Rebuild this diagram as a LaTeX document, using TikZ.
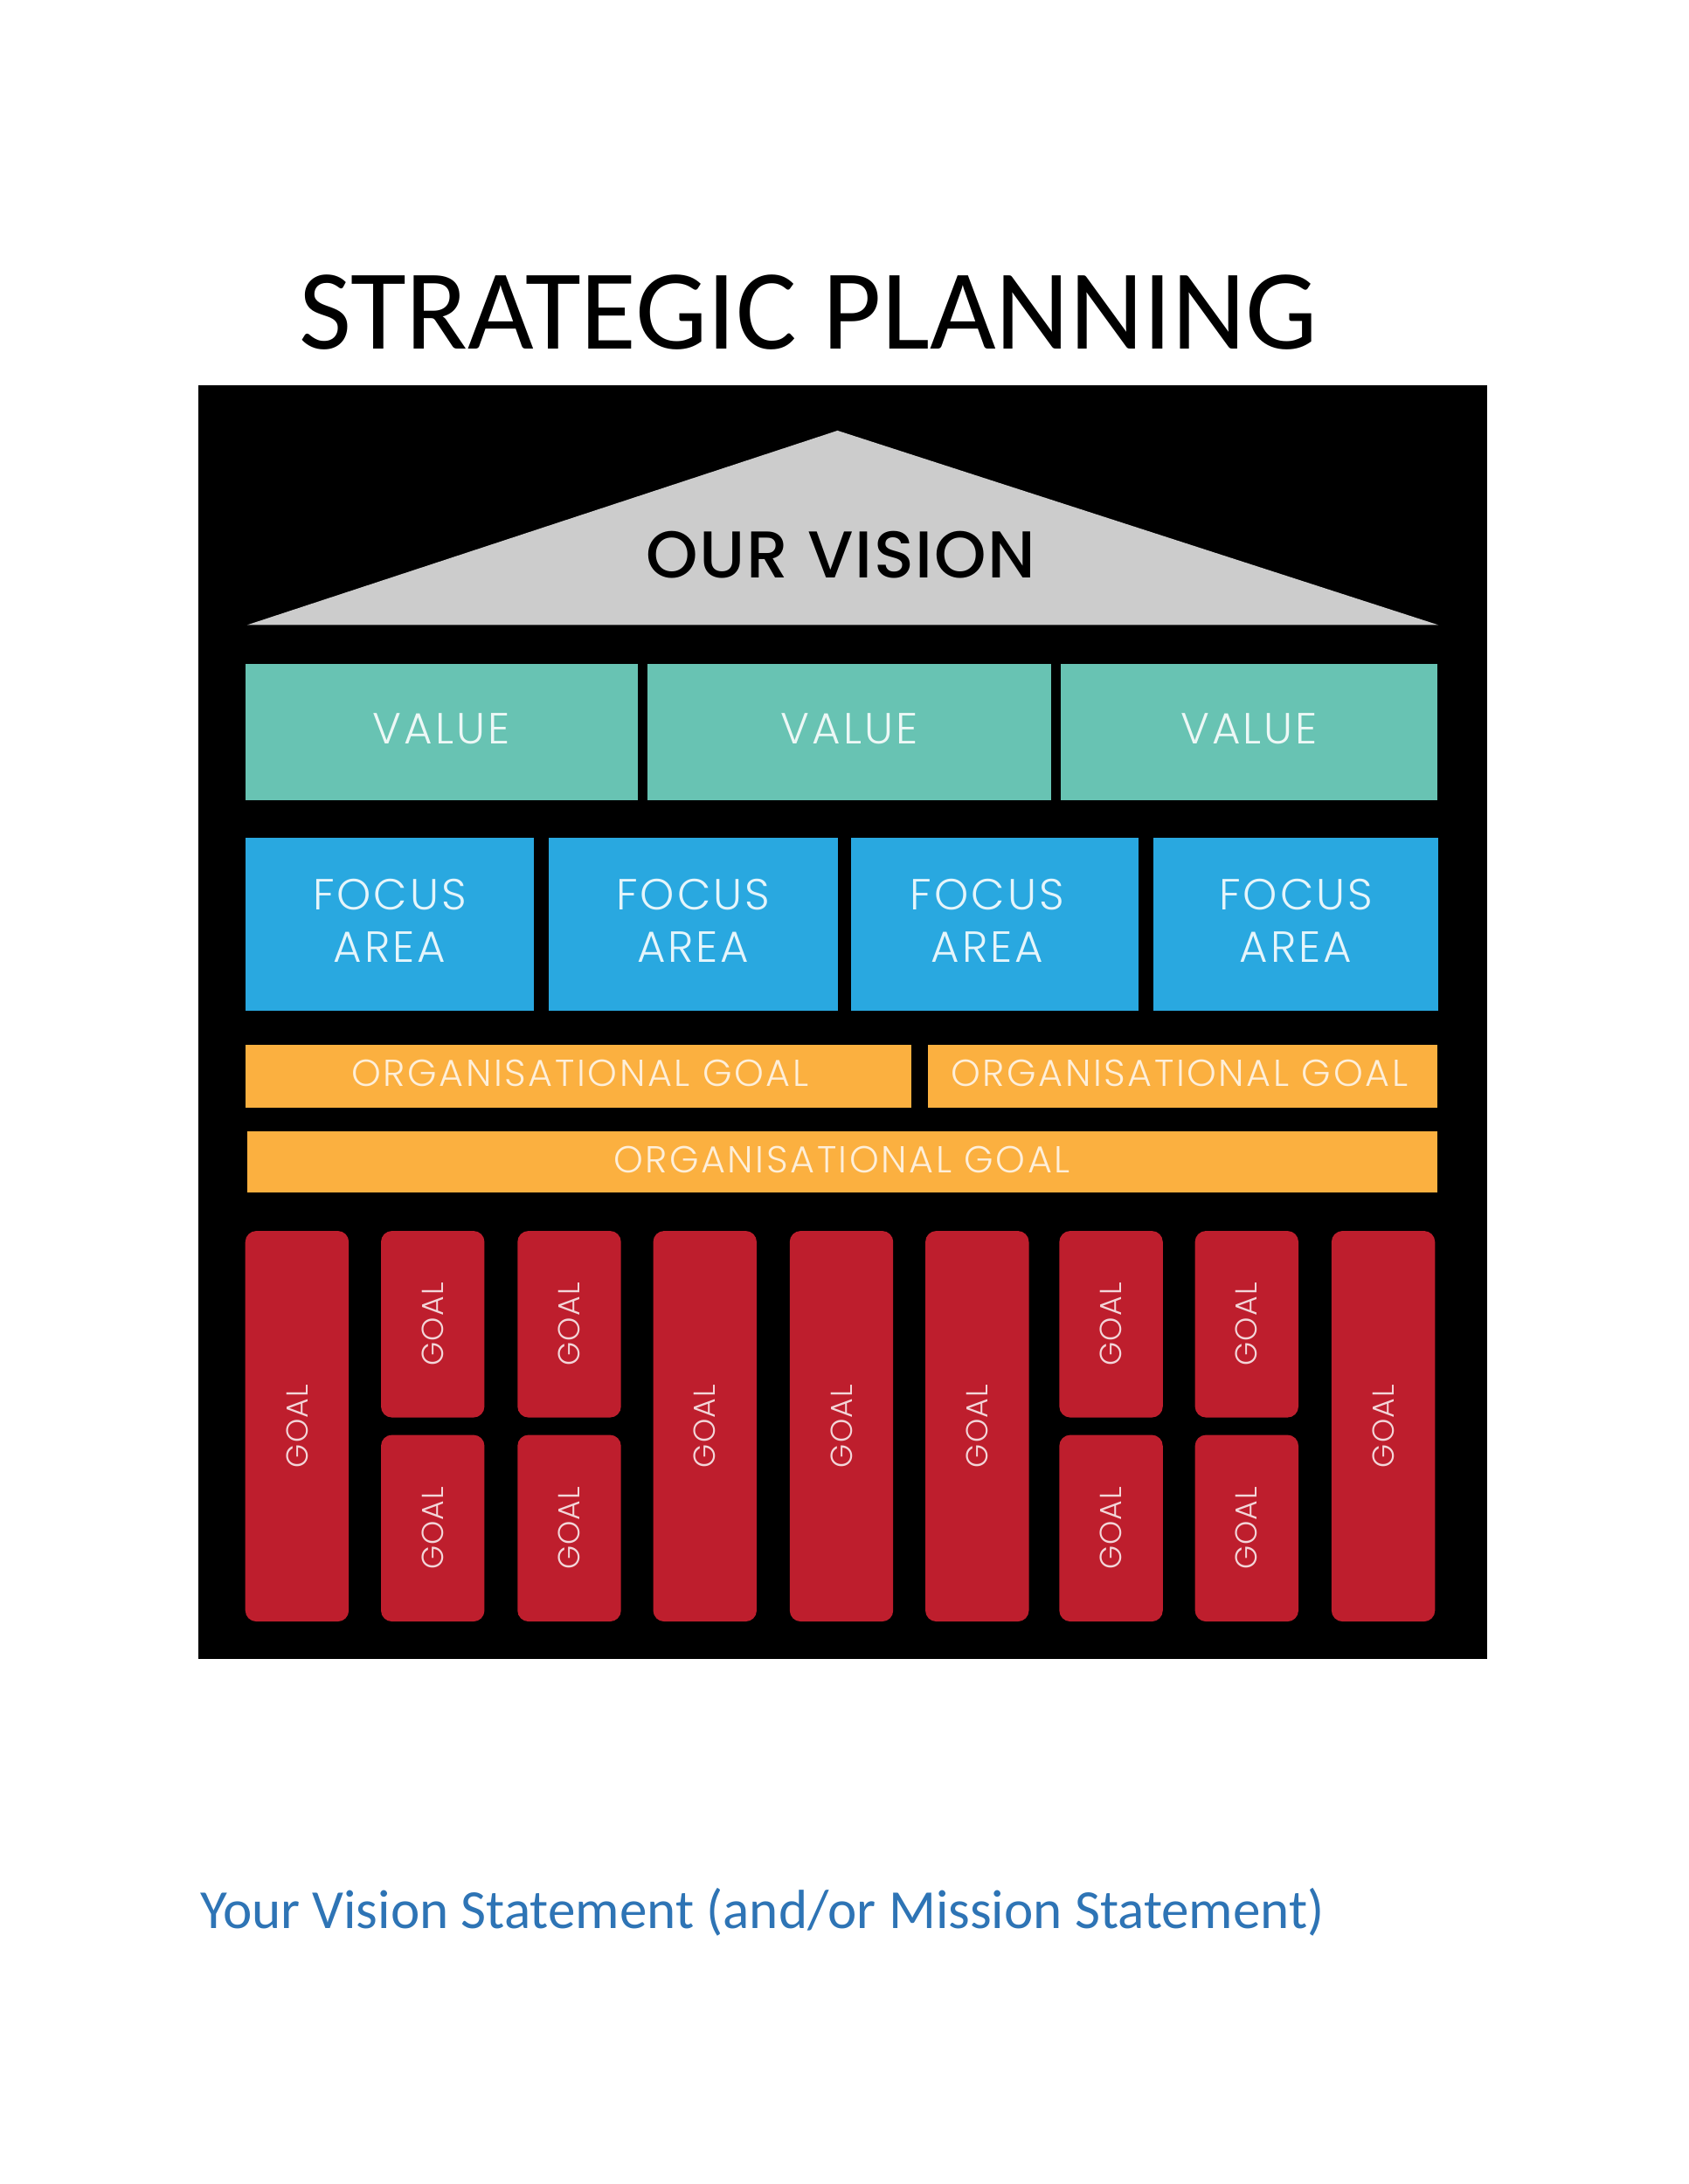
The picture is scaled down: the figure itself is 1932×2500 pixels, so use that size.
\documentclass[tikz,border=0pt]{standalone}
\usepackage{fontspec}
\setmainfont{Carlito}
\newfontfamily\popL{Poppins Light}[LetterSpace=6]
\newfontfamily\popLg{Poppins Light}[LetterSpace=3]
\newfontfamily\popM{Poppins Medium}[LetterSpace=2.4]
\definecolor{visgray}{HTML}{CCCCCC}
\definecolor{valteal}{HTML}{68C3B3}
\definecolor{focblue}{HTML}{29A8E0}
\definecolor{orgorange}{HTML}{FBB040}
\definecolor{goalred}{HTML}{BE1E2D}
\definecolor{headblue}{HTML}{2E74B5}
\tikzset{
  lbl/.style={inner sep=0pt, outer sep=0pt},
  valtxt/.style={lbl, anchor=base, text=white!88!valteal, font=\popL\fontsize{15.8}{19}\selectfont},
  foctxt/.style={lbl, align=center, text=white!88!focblue, font=\popL\fontsize{15.8}{19}\selectfont},
  orgtxt/.style={lbl, anchor=base, text=white!80!orgorange, font=\popL\fontsize{13.6}{16}\selectfont},
  goaltxt/.style={lbl, rotate=90, text=white!82!goalred, font=\popLg\fontsize{11}{13}\selectfont},
  goalbox/.style={fill=goalred, rounded corners=4pt},
}
\begin{document}
\begin{tikzpicture}[x=0.3168pt,y=-0.3168pt]
\useasboundingbox[fill=white] (0,0) rectangle (1932,2500);
% title
\node[lbl, anchor=base west, font=\fontsize{41.4}{50}\selectfont] (title) at (342,399) {STRATEGIC PLANNING};
\begin{scope}[shift={(227,441)}, xscale=0.99528, yscale=0.99795, shift={(-228,-443)}]
% black panel
\fill[black] (228,443) rectangle (1710,1904);
\begin{scope}[yshift=-2*0.3168pt]
% roof
\fill[visgray] (284,716) -- (963,493) -- (1654,716) -- cycle;
\node[lbl, anchor=base, font=\popM\fontsize{24}{28}\selectfont] (vision) at (967,662) {OUR VISION};
% values
\fill[valteal] (282,761) rectangle (733,917);
\fill[valteal] (744,761) rectangle (1209,917);
\fill[valteal] (1220,761) rectangle (1653,917);
\node[valtxt] (v1) at (507.5,852) {VALUE};
\node[valtxt] (v2) at (976.5,852) {VALUE};
\node[valtxt] (v3) at (1436.5,852) {VALUE};
% focus areas
\fill[focblue] (282,960) rectangle (614,1158);
\fill[focblue] (631,960) rectangle (963,1158);
\fill[focblue] (979,960) rectangle (1309,1158);
\fill[focblue] (1326,960) rectangle (1654,1158);
\node[foctxt] (f1) at (448,1055) {FOCUS\\[0pt]AREA};
\node[foctxt] (f2) at (797,1055) {FOCUS\\[0pt]AREA};
\node[foctxt] (f3) at (1135,1055) {FOCUS\\[0pt]AREA};
\node[foctxt] (f4) at (1490,1055) {FOCUS\\[0pt]AREA};
% organisational goals
\fill[orgorange] (282,1198) rectangle (1048,1270);
\fill[orgorange] (1067,1198) rectangle (1653,1270);
\fill[orgorange] (284,1297) rectangle (1653,1367);
\node[orgtxt] (o1) at (667,1245) {ORGANISATIONAL GOAL};
\node[orgtxt] (o2) at (1356,1245) {ORGANISATIONAL GOAL};
\node[orgtxt] (o3) at (968,1344) {ORGANISATIONAL GOAL};
% goals
\foreach \x/\t in {282/1,751/4,908/5,1064/6,1531/9}{
  \fill[goalbox] (\x,1411) rectangle ++(119,448);
  \node[goaltxt] (g\t) at (\x+59.5,1635) {GOAL};
}
\foreach \x/\t in {438/2,595/3,1218/7,1374/8}{
  \fill[goalbox] (\x,1411) rectangle ++(119,214);
  \fill[goalbox] (\x,1645) rectangle ++(119,214);
  \node[goaltxt] (g\t a) at (\x+59.5,1518) {GOAL};
  \node[goaltxt] (g\t b) at (\x+59.5,1752) {GOAL};
}
\end{scope}
\end{scope}
% bottom statement
\node[lbl, anchor=base west, text=headblue, font=\fontsize{20}{24}\selectfont] (stmt) at (229,2207) {Your Vision Statement (and/or Mission Statement)};
\end{tikzpicture}
\end{document}
